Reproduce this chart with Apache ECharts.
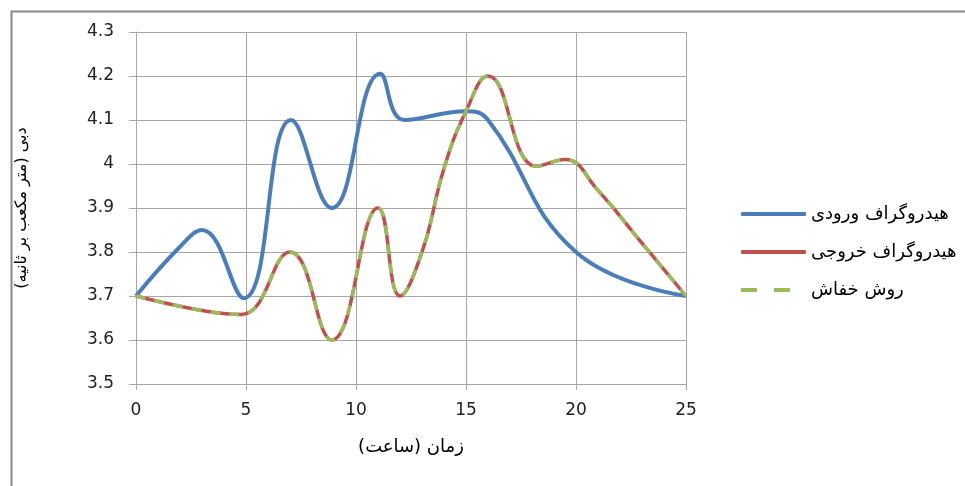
<!DOCTYPE html>
<html>
<head>
<meta charset="utf-8">
<script src="https://cdn.jsdelivr.net/npm/echarts@6/dist/echarts.min.js"></script>
<style>html,body{margin:0;padding:0;background:#fff}#c{width:965px;height:486px}</style>
</head>
<body>
<div id="c"></div>
<script>
// Data
var seriesNames = ['هیدروگراف ورودی', 'هیدروگراف خروجی', 'روش خفاش'];
var inflow = [[0,3.7],[2,3.812],[3,3.85],[4.9,3.695],[7.05,4.1],[8.9,3.9],[11.1,4.205],[12.2,4.1],[15,4.12],[16,4.1],[20,3.8],[25,3.7]];
var outflow = [[0,3.7],[3,3.667],[4.8,3.658],[7,3.8],[8.9,3.6],[11,3.9],[12,3.7],[13,3.8],[14,3.99],[15,4.12],[16,4.2],[18.2,3.995],[19.5,4.01],[21,3.94],[23,3.82],[25,3.7]];
var batMethod = [[0,3.7],[3,3.667],[4.8,3.658],[7,3.8],[8.9,3.6],[11,3.9],[12,3.7],[13,3.8],[14,3.99],[15,4.12],[16,4.2],[18.2,3.995],[19.5,4.01],[21,3.94],[23,3.82],[25,3.7]];
var xTicks = [0, 25, 5];
var yTicks = [3.5, 4.3, 0.1];
var xName = 'زمان (ساعت)';
var yName = 'دبی (متر مکعب بر ثانیه)';

var chart = echarts.init(document.getElementById('c'), null, {renderer: 'canvas'});
var labelFont = '"DejaVu Sans", sans-serif';
var arFont = '"DejaVu Sans", sans-serif';
chart.setOption({
  animation: false,
  backgroundColor: '#fff',
  graphic: [{
    type: 'rect', left: 9, top: 9, silent: true,
    shape: {x: 0, y: 0, width: 1000, height: 1000},
    style: {fill: 'none', stroke: '#888', lineWidth: 2}
  }],
  grid: {left: 136, right: 279, top: 32, bottom: 102, containLabel: false},
  legend: {
    orient: 'vertical', left: 736, top: 200,
    itemWidth: 65, itemHeight: 4, itemGap: 20,
    textStyle: {fontFamily: arFont, fontSize: 18, color: '#000'},
    data: [
      {name: seriesNames[0], icon: 'roundRect'},
      {name: seriesNames[1], icon: 'roundRect'},
      {name: seriesNames[2], icon: 'path://M0,0h16v4h-16z M33,0h16v4h-16z M64.9,3.9h0.1v0.1h-0.1z'}
    ]
  },
  xAxis: {
    type: 'value', min: xTicks[0], max: xTicks[1], interval: xTicks[2],
    name: xName, nameLocation: 'middle', nameGap: 54,
    nameTextStyle: {fontFamily: arFont, fontSize: 18, color: '#000'},
    axisLine: {show: true, lineStyle: {color: '#a6a6a6', width: 1}},
    axisTick: {show: true, length: 6, lineStyle: {color: '#a6a6a6'}},
    axisLabel: {margin: 18, fontFamily: labelFont, fontSize: 17, color: '#222'},
    splitLine: {show: true, lineStyle: {color: '#a6a6a6', width: 1}}
  },
  yAxis: {
    type: 'value', min: yTicks[0], max: yTicks[1], interval: yTicks[2],
    name: yName, nameLocation: 'middle', nameGap: 106, nameRotate: 90,
    nameTextStyle: {fontFamily: arFont, fontSize: 16, color: '#000'},
    axisLine: {show: true, lineStyle: {color: '#a6a6a6', width: 1}},
    axisTick: {show: true, length: 7, lineStyle: {color: '#a6a6a6'}},
    axisLabel: {margin: 22, fontFamily: labelFont, fontSize: 17, color: '#222',
      formatter: function (v) { return String(Number(v.toFixed(1))); }},
    splitLine: {show: true, lineStyle: {color: '#a6a6a6', width: 1}}
  },
  series: [
    {name: seriesNames[0], type: 'line', data: inflow, smooth: 0.45, symbol: 'none',
      lineStyle: {color: '#4a7ebb', width: 4}, itemStyle: {color: '#4a7ebb'}},
    {name: seriesNames[1], type: 'line', data: outflow, smooth: 0.45, symbol: 'none',
      lineStyle: {color: '#c0504d', width: 3.5}, itemStyle: {color: '#c0504d'}},
    {name: seriesNames[2], type: 'line', data: batMethod, smooth: 0.45, symbol: 'none',
      lineStyle: {color: '#9bbb59', width: 3.5, type: [10, 9]}, itemStyle: {color: '#9bbb59'}}
  ]
});
</script>
</body>
</html>
